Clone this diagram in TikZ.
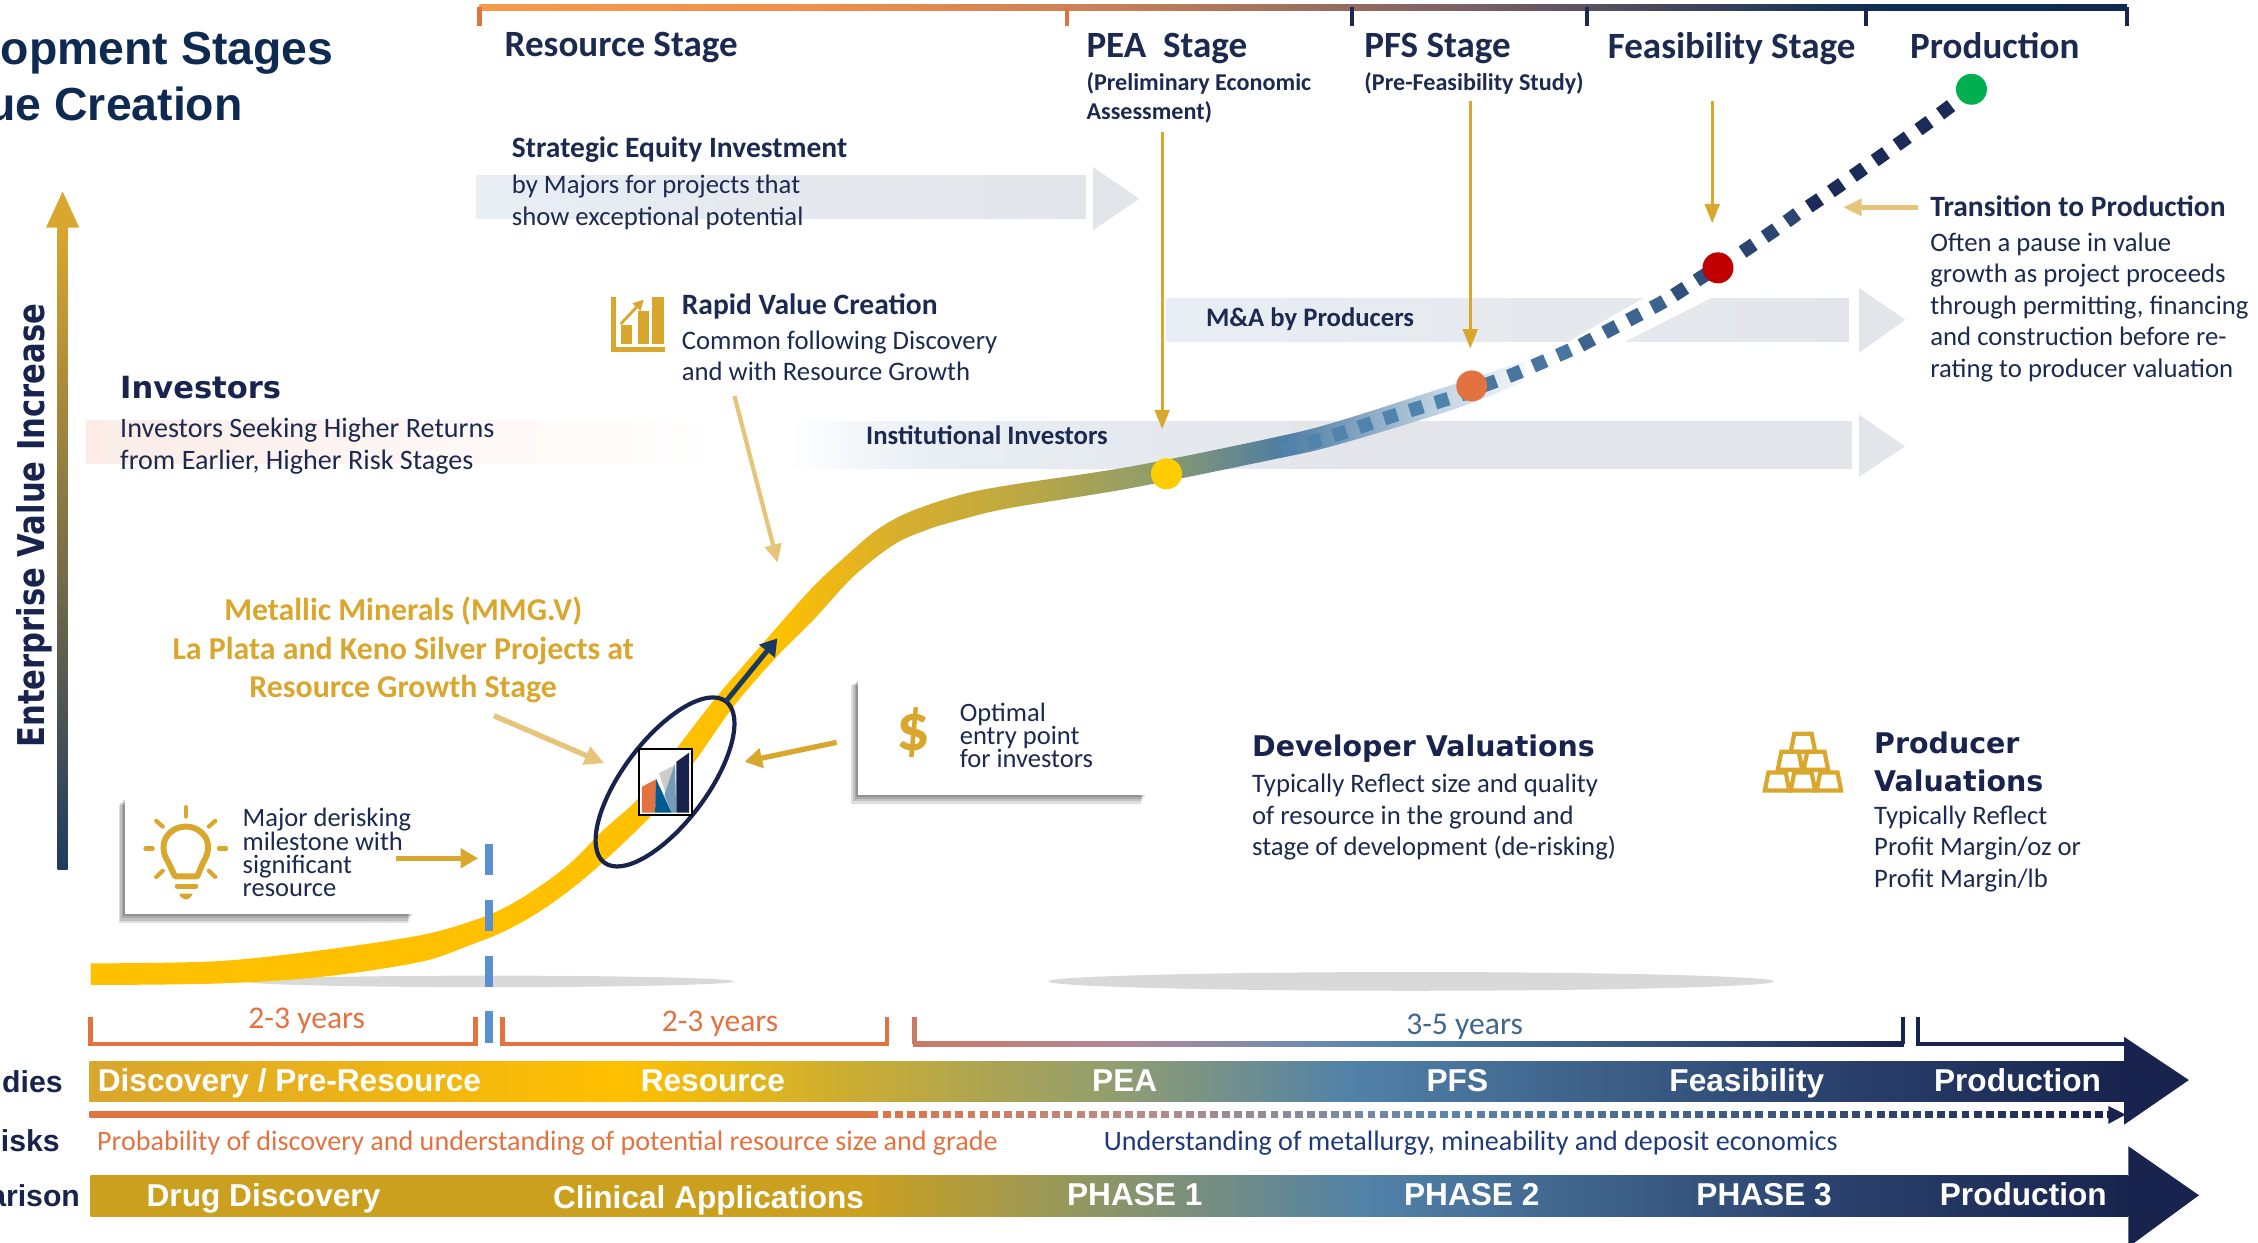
\documentclass[tikz,border=0pt]{standalone}
\usepackage{fontspec}
\usetikzlibrary{arrows.meta,shapes.geometric}
\setmainfont{Carlito}
\newfontfamily\headfont{Liberation Sans}
\newfontfamily\widefont{DejaVu Sans}
\definecolor{mmnavy}{RGB}{24,36,78}
\definecolor{mmink}{RGB}{28,42,80}
\definecolor{mmgold}{RGB}{217,166,46}
\definecolor{mmpale}{RGB}{230,197,122}
\definecolor{mmamber}{RGB}{255,192,0}
\definecolor{mmorange}{RGB}{226,114,63}
\definecolor{mmsteel}{RGB}{82,130,168}
\definecolor{mmband}{RGB}{227,229,234}
\definecolor{mmbandl}{RGB}{232,238,244}
\definecolor{mmblush}{RGB}{251,236,231}
\definecolor{mmdash}{RGB}{91,143,208}
\definecolor{mmolive}{RGB}{192,169,63}
\definecolor{mmsage}{RGB}{143,157,114}
\definecolor{mmdeep}{RGB}{44,69,112}
\definecolor{mmdull}{RGB}{203,160,31}
\definecolor{mmsage2}{RGB}{143,150,100}
\definecolor{mmtan}{RGB}{247,154,74}
\definecolor{mmtan2}{RGB}{240,143,76}
\definecolor{mmtan3}{RGB}{201,128,87}
\definecolor{mmmauve}{RGB}{122,96,101}
\definecolor{mmharbor}{RGB}{15,47,85}
\definecolor{mmharbor2}{RGB}{15,42,80}
\definecolor{mmclay}{RGB}{201,123,98}
\definecolor{mmlilac}{RGB}{176,136,154}
\definecolor{mmhaze}{RGB}{111,141,176}
\definecolor{mmhaze2}{RGB}{79,127,166}
\definecolor{mmrose}{RGB}{180,140,140}
\definecolor{mmhaze3}{RGB}{95,134,172}
\definecolor{mmcurveb}{RGB}{217,175,44}
\definecolor{mmcurvec}{RGB}{143,157,106}
\definecolor{mmcurved}{RGB}{79,125,163}
\definecolor{mmcurvee}{RGB}{111,150,182}
\definecolor{mmcurvef}{RGB}{148,178,202}
\definecolor{mmcurveg}{RGB}{195,212,226}
\definecolor{mmcurveh}{RGB}{245,248,251}
\definecolor{mmlogoblue}{RGB}{0,90,146}
\definecolor{mmriskblue}{RGB}{31,58,122}
\definecolor{mmaxisend}{RGB}{31,58,96}
\definecolor{mmpea}{RGB}{255,204,0}
\definecolor{mmfeas}{RGB}{192,0,0}
\definecolor{mmprod}{RGB}{0,176,80}
\definecolor{mmdasha}{RGB}{80,131,172}
\definecolor{mmdashb}{RGB}{72,118,160}
\definecolor{mmdashc}{RGB}{60,100,142}
\definecolor{mmdashd}{RGB}{48,80,124}
\definecolor{mmdashe}{RGB}{28,42,88}
\definecolor{mmarrow}{RGB}{26,56,96}
\pgfdeclarehorizontalshading{studyshade}{100bp}{color(0bp)=(mmgold); color(25bp)=(mmgold); color(38bp)=(mmamber); color(45bp)=(mmolive); color(50.4bp)=(mmsage); color(55.9bp)=(mmsteel); color(67bp)=(mmdeep); color(75bp)=(mmnavy); color(100bp)=(mmnavy)}
\pgfdeclarehorizontalshading{pharmashade}{100bp}{color(0bp)=(mmdull); color(25bp)=(mmdull); color(44bp)=(mmdull); color(49.6bp)=(mmsage2); color(56.3bp)=(mmsteel); color(67bp)=(mmdeep); color(75bp)=(mmnavy); color(100bp)=(mmnavy)}
\pgfdeclarehorizontalshading{stageshade}{100bp}{color(0bp)=(mmtan); color(25bp)=(mmtan); color(35bp)=(mmtan2); color(44bp)=(mmtan3); color(55bp)=(mmmauve); color(67bp)=(mmharbor); color(75bp)=(mmharbor2); color(100bp)=(mmharbor2)}
\pgfdeclarehorizontalshading{yearshade}{100bp}{color(0bp)=(mmclay); color(25bp)=(mmclay); color(36bp)=(mmlilac); color(44.5bp)=(mmhaze); color(50bp)=(mmhaze2); color(67bp)=(mmdeep); color(75bp)=(mmnavy); color(100bp)=(mmnavy)}
\pgfdeclarehorizontalshading{riskshade}{100bp}{color(0bp)=(mmorange); color(25bp)=(mmorange); color(44bp)=(mmorange); color(51.2bp)=(mmrose); color(58.3bp)=(mmhaze3); color(75bp)=(mmnavy); color(100bp)=(mmnavy)}
\pgfdeclarehorizontalshading{curveshade}{100bp}{color(0bp)=(mmamber); color(25bp)=(mmamber); color(48.9bp)=(mmamber); color(52.9bp)=(mmcurveb); color(56.9bp)=(mmolive); color(62bp)=(mmcurvec); color(66.5bp)=(mmcurved); color(68.3bp)=(mmcurvee); color(70bp)=(mmcurvef); color(72bp)=(mmcurveg); color(75bp)=(mmcurveh); color(100bp)=(mmcurveh)}
\pgfdeclarehorizontalshading{institutionshade}{100bp}{color(0bp)=(white); color(25bp)=(white); color(32bp)=(mmbandl); color(52bp)=(mmband); color(75bp)=(mmband); color(100bp)=(mmband)}
\tikzset{
  bodytext/.style={inner sep=0pt,align=left,text=mmink,font=\fontsize{7.6}{9}\selectfont},
  boldtext/.style={inner sep=0pt,text=mmink,font=\fontsize{8.4}{9}\selectfont\bfseries},
  bandtext/.style={inner sep=0pt,text=mmink,font=\fontsize{7.6}{9}\selectfont\bfseries},
  stagetext/.style={inner sep=0pt,text=mmink,font=\fontsize{10.55}{12}\selectfont\bfseries},
  subtext/.style={inner sep=0pt,align=left,text=mmink,font=\fontsize{6.87}{8.2}\selectfont\bfseries},
  widetext/.style={inner sep=0pt,align=left,text=mmnavy,font=\fontsize{8.1}{10.6}\selectfont\widefont\bfseries},
  bartext/.style={inner sep=0pt,anchor=base,text=white,font=\fontsize{9}{10}\selectfont\headfont\bfseries},
  cuttext/.style={inner sep=0pt,anchor=east,text=mmnavy,font=\fontsize{8.6}{10}\selectfont\headfont\bfseries},
  titletext/.style={inner sep=0pt,anchor=base east,text=mmharbor2,font=\fontsize{13.2}{15}\selectfont\headfont\bfseries},
  goldtext/.style={inner sep=0pt,align=center,text=mmgold,font=\fontsize{9.06}{11}\selectfont\bfseries},
  yeartext/.style={inner sep=0pt,text=mmorange,font=\fontsize{9}{10}\selectfont},
  boxtext/.style={inner sep=0pt,align=left,text=mmink,font=\fontsize{7.55}{6.55}\selectfont},
  shadowbox/.style={fill=white,inner sep=0pt,minimum width=2.88cm,minimum height=1.18cm},
  milestone/.style={circle,inner sep=0pt,minimum size=0.31cm},
  goldline/.style={draw=mmgold,line width=0.8pt,-{Triangle[length=5.5pt,width=4.2pt]}},
  goldthick/.style={draw=mmgold,line width=1.5pt,-{Triangle[length=5pt,width=5.5pt]}},
  paleline/.style={draw=mmpale,line width=1.2pt,-{Triangle[length=5.2pt,width=4.7pt]}},
  palethick/.style={draw=mmpale,line width=1.5pt,-{Triangle[length=5.5pt,width=5.3pt]}},
  curvedash/.style={line width=3.9pt,dash pattern=on 3.9pt off 3.73pt},
  iconline/.style={draw=mmgold,line width=1.2pt},
  bracket/.style={draw=mmorange,line width=1.3pt}
}
\newcommand{\softshadow}[4]{\foreach \s in {1,2,3,4}
  \fill[black,opacity=0.13] (#1-\s*1.1,#2+2+\s) rectangle (#3-\s,#4+\s*1.5);}
\begin{document}
\begin{tikzpicture}[x=0.0144cm,y=-0.0144cm]
\useasboundingbox (0,0) rectangle (1568,862.5);
\node[titletext] (titleone) at (232,45) {opment Stages};
\node[titletext] (titletwo) at (169,84) {ue Creation};

\shade[shading=stageshade] (333,3) rectangle (1477,7);
\foreach \x/\c in {333/mmorange,741/mmorange,939/mmink,1102/mmink,1296/mmnavy,1477/mmnavy}
  \draw[draw=\c,line width=1.2pt] (\x,5) -- (\x,18);
\node[stagetext,anchor=west] (resourcehead) at (350,33) {Resource Stage};
\node[stagetext,anchor=west] (peahead) at (754,34) {PEA~ Stage};
\node[subtext,anchor=north west] (peasub) at (754,50) {(Preliminary Economic\\Assessment)};
\node[stagetext,anchor=west] (pfshead) at (947,34) {PFS Stage};
\node[subtext,anchor=north west] (pfssub) at (947,50) {(Pre-Feasibility Study)};
\node[stagetext,anchor=west] (feashead) at (1116,34) {Feasibility Stage};
\node[stagetext,anchor=west] (prodhead) at (1326,32) {Production};

\shade[left color=mmbandl,right color=mmband] (331,122) rectangle (754,152);
\fill[mmband] (759,116) -- (791,138) -- (759,160) -- cycle;
\shade[left color=mmbandl,right color=mmband] (810,207) rectangle (1284,237);
\fill[mmband] (1291,200) -- (1323,222) -- (1291,245) -- cycle;
\shade[shading=institutionshade] (545,293) rectangle (1286,325);
\fill[mmband] (1291,288) -- (1323,310) -- (1291,331) -- cycle;
\shade[left color=mmblush,right color=white] (60,292) rectangle (500,322);
\fill[white] (1088,238) -- (1127,238) -- (1190,206) -- (1143,206) -- cycle;

\fill[black!15] (340,681.5) ellipse (170 and 4);
\fill[black!15] (980,681.5) ellipse (252 and 6.5);

\shade[shading=curveshade] plot[smooth,tension=0.55] coordinates {(63,669) (150,667.5) (222,660) (291.7,649.5) (326.4,640) (349.5,630.8) (372.7,616.9) (395.8,599.6) (419,576.4) (444.5,553.2) (469.9,519.7) (497.7,483.8) (527.8,449) (562.5,409.7) (585.7,387.7) (608.8,368) (632,355.3) (666.7,343.7) (700,337) (785,324) (881.9,304.4) (928,292.9) (1011.5,266.2) (1060,250)}
  -- plot[smooth,tension=0.55] coordinates {(1058,265) (1011.5,283.6) (928,309) (881.9,319.5) (785,339) (700,353) (666.7,361) (643.5,368) (620.4,378.4) (592.6,400.4) (564.8,430.5) (539.4,456) (509.3,490.7) (481.5,530) (453.7,564.8) (419,598.4) (395.8,618) (372.7,634.3) (349.5,647) (326.4,656.3) (291.7,668) (222,678.5) (150,683) (63,684)} -- cycle;

\draw[curvedash,draw=mmdasha] plot[smooth] coordinates {(890,312.6) (927.7,302) (963.4,290) (998.8,279) (1018,273)};
\draw[curvedash,draw=mmdashb] plot[smooth] coordinates {(1030,267.8) (1050.9,260) (1085,245.4) (1098,239.6)};
\draw[curvedash,draw=mmdashc] plot[smooth] coordinates {(1097.8,239.8) (1118,229) (1150.9,211.8) (1162,205.4)};
\draw[curvedash,draw=mmdashd] plot[smooth] coordinates {(1162.4,205) (1182.4,192) (1190,187)};
\draw[curvedash,draw=mmdeep] plot[smooth] coordinates {(1210,175) (1232,160) (1248,148.5)};
\draw[curvedash,draw=mmdashe] plot[smooth] coordinates {(1256,143.5) (1275,130.5) (1335,88) (1358,71)};

\node[milestone,fill=mmpea] (peadot) at (810,329) {};
\node[milestone,fill=mmorange] (pfsdot) at (1022,268) {};
\node[milestone,fill=mmfeas] (feasdot) at (1193,186) {};
\node[milestone,fill=mmprod] (proddot) at (1369,62) {};

\coordinate (peatop) at (807,92);
\coordinate (peatip) at (807,298);
\coordinate (pfstop) at (1021,70);
\coordinate (pfstip) at (1021,242);
\coordinate (feastop) at (1189,70);
\coordinate (feastip) at (1189,155);
\draw[goldline] (peatop) -- (peatip);
\draw[goldline] (pfstop) -- (pfstip);
\draw[goldline] (feastop) -- (feastip);

\node[boldtext,anchor=west] (strategichead) at (355,104) {Strategic Equity Investment};
\node[bodytext,anchor=north west] (strategicbody) at (355,121) {by Majors for projects that\\show exceptional potential};
\node[boldtext,anchor=west] (rapidhead) at (473,213) {Rapid Value Creation};
\node[bodytext,anchor=north west] (rapidbody) at (473,229) {Common following Discovery\\and with Resource Growth};
\node[widetext,anchor=west,font=\fontsize{8.7}{10.6}\selectfont\widefont\bfseries] (investorhead) at (83,269) {Investors};
\node[bodytext,anchor=north west,font=\fontsize{8}{9}\selectfont] (investorbody) at (83,290) {Investors Seeking Higher Returns\\from Earlier, Higher Risk Stages};
\node[bandtext,anchor=west] (institutional) at (601,302) {Institutional Investors};
\node[bandtext,anchor=west] (producers) at (837,222) {M\&A by Producers};
\node[boldtext,anchor=west] (transitionhead) at (1340,143) {Transition to Production};
\node[bodytext,anchor=north west] (transitionbody) at (1340,161) {Often a pause in value\\growth as project proceeds\\through permitting, financing\\and construction before re-\\rating to producer valuation};
\coordinate (transitionfoot) at (1332,144);
\coordinate (transitiontip) at (1280,144);
\draw[paleline,line width=1.6pt] (transitionfoot) -- (transitiontip);
\coordinate (rapidfoot) at (510,275);
\coordinate (rapidtip) at (540,390.7);
\draw[paleline] (rapidfoot) -- (rapidtip);

\node[goldtext,anchor=north] (metallic) at (280,414) {Metallic Minerals (MMG.V)\\La Plata and Keno Silver Projects at\\Resource Growth Stage};
\coordinate (metallicfoot) at (343,497);
\coordinate (metallictip) at (419.5,530);
\draw[palethick] (metallicfoot) -- (metallictip);

\softshadow{86.8}{552.8}{287}{634.8}
\softshadow{595.6}{470}{796}{552}
\node[shadowbox] (majorbox) at (186.9,593.8) {};
\node[shadowbox] (optimalbox) at (695.8,511) {};
\node[boxtext,anchor=north west] (majortext) at (168,561) {Major derisking\\milestone with\\significant\\resource};
\node[boxtext,anchor=north west] (optimaltext) at (666,488) {Optimal\\entry point\\for investors};
\node[inner sep=0pt,text=mmgold,font=\fontsize{19}{22}\selectfont\bfseries] (dollar) at (634,509) {\$};

\draw[iconline,line width=1.7pt,line join=round] (121.5,608.5) -- (117,599) .. controls (108,585) and (118,574) .. (129.1,574) .. controls (140,574) and (150,585) .. (141,599) -- (137,608.5) -- cycle;
\draw[mmgold,line width=1.4pt,line cap=round] (123,615.3) -- (136,615.3);
\fill[mmgold] (124.5,620.5) -- (133.8,620.5) .. controls (133,623) and (131,624.6) .. (129,624.6) .. controls (127,624.6) and (125,623) .. (124.5,620.5) -- cycle;
\foreach \xa/\ya/\xb/\yb in {129.1/560.5/129.1/567, 108.5/570/113/574, 149.5/570/145/574, 101/589.2/106/589.2, 152/589.2/157/589.2, 108.5/609/113/604.7, 149.5/609/145/604.7}
  \draw[mmgold,line width=1.2pt,line cap=round] (\xa,\ya) -- (\xb,\yb);

\coordinate (majorfoot) at (275,596);
\coordinate (majortip) at (332,596);
\draw[goldthick] (majorfoot) -- (majortip);
\coordinate (optimalfoot) at (581,515.5);
\coordinate (optimaltip) at (517,529);
\draw[goldthick] (optimalfoot) -- (optimaltip);

\draw[draw=mmdash,line width=2.1pt,dash pattern=on 9pt off 6.9pt] (339.5,586) -- (339.5,725);

\node[ellipse,draw=mmnavy,line width=1.2pt,inner sep=0pt,minimum width=2.02cm,minimum height=0.84cm,rotate=53] (entry) at (461.8,543) {};
\coordinate (entryout) at (504,487.2);
\coordinate (entrytip) at (539.8,443.3);
\draw[draw=mmarrow,line width=1.4pt,-{Triangle[length=4.7pt,width=5.6pt]}] (entryout) -- (entrytip);

\draw[fill=white,draw=black,line width=0.5pt] (443.5,520.3) rectangle (480.3,566);
\fill[mmorange] (445.8,546.3) -- (456,541) -- (454.9,564.3) -- (445.8,564.3) -- cycle;
\fill[mmlogoblue] (455.6,541) -- (466.4,564.3) -- (454.9,564.3) -- cycle;
\fill[black!20] (457.6,537) -- (468.8,531.2) -- (462.5,552) -- cycle;
\fill[mmsteel!80!white] (468.8,530) -- (469.5,564.3) -- (466.4,564.3) -- (461.4,552) -- cycle;
\fill[mmnavy] (469.7,529) -- (478.5,522.7) -- (478.5,564.3) -- (469.7,564.3) -- cycle;

\draw[iconline,line width=1.5pt] (426,206) -- (426,242.5) -- (462,242.5);
\fill[mmgold] (431,226) rectangle (439,239);
\fill[mmgold] (443,216) rectangle (451,239);
\fill[mmgold] (453,206) rectangle (461,239);
\draw[draw=mmgold,line width=0.8pt,-{Triangle[length=3pt,width=3pt]}] (431,225) -- (447,208);

\node[widetext,anchor=west] (developerhead) at (869,520) {Developer Valuations};
\node[bodytext,anchor=north west] (developerbody) at (869,537) {Typically Reflect size and quality\\of resource in the ground and\\stage of development (de-risking)};
\node[widetext,anchor=north west] (producerhead) at (1301,508) {Producer\\Valuations};
\node[bodytext,anchor=north west] (producerbody) at (1301,559) {Typically Reflect\\Profit Margin/oz or\\Profit Margin/lb};
\foreach \x/\y in {1252/515.5, 1243/528, 1261/528, 1234/542.5, 1252/542.5, 1270/542.5}
  \draw[iconline] (\x-6,\y-6) -- (\x+6,\y-6) -- (\x+8.5,\y+6.5) -- (\x-8.5,\y+6.5) -- cycle;

\draw[bracket] (63,706) -- (63,725) -- (330,725) -- (330,706);
\draw[bracket] (349,706) -- (349,725) -- (616,725) -- (616,706);
\shade[shading=yearshade] (634,723.5) rectangle (1322,726.5);
\draw[draw=mmclay,line width=1.3pt] (635,706) -- (635,725);
\draw[draw=mmnavy,line width=1.3pt] (1321.5,706) -- (1321.5,725);
\draw[draw=mmnavy,line width=1.3pt] (1332,706) -- (1332,725) -- (1476,725);
\node[yeartext] (yearsone) at (213,709) {2-3 years};
\node[yeartext] (yearstwo) at (500,711) {2-3 years};
\node[yeartext,text=mmsteel!70!mmnavy] (yearsthree) at (1017,713) {3-5 years};

\shade[shading=studyshade] (62,737) rectangle (1475,765);
\fill[mmnavy] (1475,720) -- (1520,750) -- (1475,781) -- cycle;
\shade[shading=riskshade] (62,772) rectangle (1466,776);
\draw[white,line width=2.2pt,dash pattern=on 1.2pt off 2.25pt] (610,774) -- (1464,774);
\fill[mmnavy] (1464,768) -- (1476,774) -- (1464,780.5) -- cycle;
\shade[shading=pharmashade] (63,816) rectangle (1478,845);
\fill[mmnavy] (1478,796) -- (1527,830) -- (1478,866) -- cycle;

\node[bartext] (discovery) at (201,758) {Discovery / Pre-Resource};
\node[bartext] (resource) at (495,758) {Resource};
\node[bartext] (pea) at (781,758) {PEA};
\node[bartext] (pfs) at (1012,758) {PFS};
\node[bartext] (feasibility) at (1213,758) {Feasibility};
\node[bartext] (production) at (1401,758) {Production};
\node[bartext] (drug) at (183,838) {Drug Discovery};
\node[bartext] (clinical) at (492,839) {Clinical Applications};
\node[bartext] (phaseone) at (788,837) {PHASE 1};
\node[bartext] (phasetwo) at (1022,837) {PHASE 2};
\node[bartext] (phasethree) at (1225,837) {PHASE 3};
\node[bartext] (pharmaprod) at (1405,837) {Production};

\node[inner sep=0pt,anchor=west,text=mmorange,font=\fontsize{8}{10}\selectfont] (risktext) at (67,794) {Probability of discovery and understanding of potential resource size and grade};
\node[inner sep=0pt,anchor=west,text=mmriskblue,font=\fontsize{8}{10}\selectfont] (metaltext) at (766,794) {Understanding of metallurgy, mineability and deposit economics};
\node[cuttext] (cutstudies) at (44,751) {udies};
\node[cuttext] (cutrisks) at (42,792) {isks};
\node[cuttext] (cutcompare) at (56,830) {arison};

\shade[top color=mmgold,bottom color=mmaxisend] (40,158) rectangle (47,604);
\fill[mmgold] (43.5,133) -- (55,158) -- (32,158) -- cycle;
\node[widetext,rotate=90,font=\fontsize{10.5}{13}\selectfont\widefont\bfseries] (valueaxis) at (24,365) {\scalebox{0.83}[1]{Enterprise Value Increase}};
\end{tikzpicture}
\end{document}
